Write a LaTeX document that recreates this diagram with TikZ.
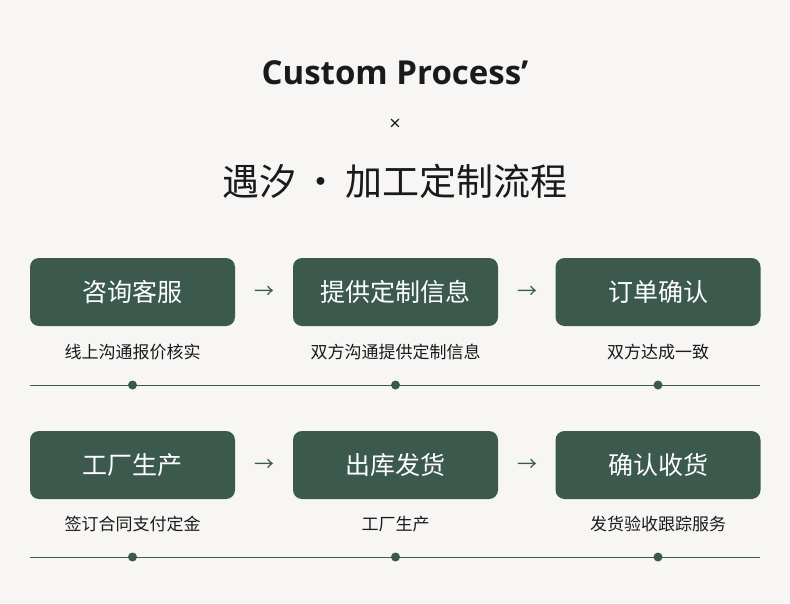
\documentclass[tikz,border=0pt]{standalone}
\usepackage{fontspec}
\setmainfont{Open Sans}
\newfontfamily\cjk{Noto Sans CJK SC}
\newfontfamily\cjkb{Noto Sans CJK SC}[BoldFont=*]
\definecolor{bg}{HTML}{F7F6F4}
\definecolor{gr}{HTML}{3B5A4D}
\definecolor{tx}{HTML}{1A1A1A}
\begin{document}
\begin{tikzpicture}[x=1pt,y=-1pt,
  stepbox/.style={fill=gr,rounded corners=9pt,minimum width=205pt,minimum height=68pt,inner sep=0pt,text=white,font=\cjk\fontsize{25}{30}\selectfont},
  sub/.style={text=tx,font=\cjk\fontsize{17}{20}\selectfont},
  arr/.style={text=gr,font=\cjk\fontsize{20}{22}\selectfont},
  dot/.style={circle,fill=gr,inner sep=0pt,minimum size=9pt}]
\fill[bg] (0,0) rectangle (790,603);
\useasboundingbox (0,0) rectangle (790,603);
\node[text=tx,font=\bfseries\fontsize{33}{38}\selectfont] (t1) at (395,73) {Custom Process’};
\node[text=tx,font=\fontsize{20}{22}\selectfont] (t2) at (395,125) {×};
\node[text=tx,font=\cjk\fontsize{37}{42}\selectfont] (t3) at (395,181) {遇汐\,·\,加工定制流程};
\foreach \r/\y/\ys/\yl/\a/\b/\c/\sa/\sb/\sc in {1/292/352/385/咨询客服/提供定制信息/订单确认/线上沟通报价核实/双方沟通提供定制信息/双方达成一致, 2/465/524/557/工厂生产/出库发货/确认收货/签订合同支付定金/工厂生产/发货验收跟踪服务}{
  \node[stepbox] (b\r a) at (132.5,\y) {\a};
  \node[stepbox] (b\r b) at (395.5,\y) {\b};
  \node[stepbox] (b\r c) at (658,\y) {\c};
  \node[arr] (ar\r a) at (264,\y) {→};
  \node[arr] (ar\r b) at (527,\y) {→};
  \node[sub] (s\r a) at (132.5,\ys) {\sa};
  \node[sub] (s\r b) at (395.5,\ys) {\sb};
  \node[sub] (s\r c) at (658,\ys) {\sc};
  \coordinate (l\r s) at (30,\yl);
  \coordinate (l\r e) at (760,\yl);
  \draw[gr,line width=1pt] (l\r s) -- (l\r e);
  \node[dot] (d\r a) at (132.5,\yl) {};
  \node[dot] (d\r b) at (395.5,\yl) {};
  \node[dot] (d\r c) at (658,\yl) {};
}
\end{tikzpicture}
\end{document}
